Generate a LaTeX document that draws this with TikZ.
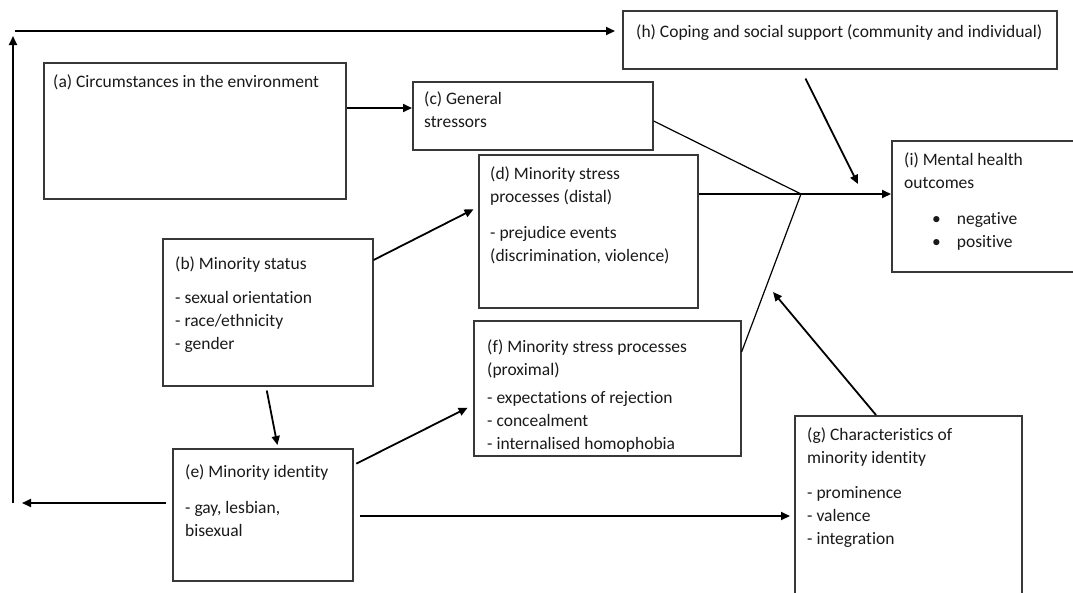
\documentclass[tikz,border=0pt]{standalone}
\usepackage{fontspec}
\setmainfont{Carlito}[Ligatures={NoCommon}]
\usetikzlibrary{arrows.meta,calc}
\begin{document}
\begin{tikzpicture}[x=1pt,y=-1pt,
  box/.style={draw=black!78,line width=1.6pt,inner sep=0pt,anchor=north west},
  txt/.style={anchor=north west,inner sep=0pt,align=left,text=black!90,font=\fontsize{17.5}{23}\selectfont},
  arr/.style={line width=1.8pt,-{Triangle[length=9pt,width=8pt]}},
  thinline/.style={line width=1.2pt}]
\useasboundingbox (0,0) rectangle (1073,592);
\clip (0,0) rectangle (1073,592);
% boxes
\node[box,minimum width=302pt,minimum height=136pt] (a) at (43,62) {};
\node[box,minimum width=240pt,minimum height=68pt] (c) at (412,81) {};
\node[box,minimum width=219pt,minimum height=153pt] (d) at (478,154) {};
\node[box,minimum width=434pt,minimum height=58pt] (h) at (622,10) {};
\node[box,minimum width=200pt,minimum height=131pt] (i) at (891,140) {};
\node[box,minimum width=210pt,minimum height=147pt] (b) at (162,238) {};
\node[box,minimum width=267pt,minimum height=135pt] (f) at (473,320) {};
\node[box,minimum width=180pt,minimum height=132pt] (e) at (172,448) {};
\node[box,minimum width=227pt,minimum height=200pt] (g) at (794,415) {};
% texts
\node[txt] (ta) at (53,74) {(a) Circumstances in the environment};
\node[txt] (tc) at (424,91) {(c) General\\stressors};
\node[txt] (td) at (490,166) {(d) Minority stress\\processes (distal)\\[13pt]- prejudice events\\(discrimination, violence)};
\node[txt] (th) at (636,24) {(h) Coping and social support (community and individual)};
\node[txt] (ti) at (904,152) {(i) Mental health\\outcomes\\[13pt]\hspace{28pt}\textbullet\hspace{16pt}negative\\\hspace{28pt}\textbullet\hspace{16pt}positive};
\node[txt] (tb) at (175,256) {(b) Minority status\\[11pt]- sexual orientation\\- race/ethnicity\\- gender};
\node[txt] (tf) at (487,339) {(f) Minority stress processes\\(proximal)\\[5pt]- expectations of rejection\\- concealment\\- internalised homophobia};
\node[txt] (te) at (185,464) {(e) Minority identity\\[13pt]- gay, lesbian,\\bisexual};
\node[txt] (tg) at (807,427) {(g) Characteristics of\\minority identity\\[12pt]- prominence\\- valence\\- integration};
% connectors
\coordinate (m) at (801,194);
\coordinate (mh) at (858,184);
\coordinate (mg) at (773,292);
\coordinate (lb) at (13,503);
\coordinate (lt) at (13,36);
\coordinate (lh) at (15,31);
\coordinate (le) at (22,503);
\draw[arr] (a.east |- 0,108) -- (c.west |- 0,108);
\draw[thinline] (c.east |- 0,121) -- (m);
\draw[thinline] (f.east |- 0,352) -- (m);
\draw[arr] (d.east |- m) -- (i.west |- m);
\draw[arr,shorten <=10pt] (h.south -| 801,0) -- (mh);
\draw[arr] (g.north -| 876,0) -- (mg);
\draw[arr,shorten >=5pt] (b.east |- 0,260) -- (d.west |- 0,207);
\draw[arr,shorten <=4pt,shorten >=3pt] (b.south -| 266,0) -- (e.north -| 278,0);
\draw[arr,shorten <=3pt,shorten >=6pt] (e.east |- 0,465) -- (f.west |- 0,405);
\draw[arr,shorten <=6pt,shorten >=4pt] (e.east |- 0,516) -- (g.west |- 0,516);
\draw[arr,shorten <=6pt] (e.west |- 0,503) -- (le);
\draw[arr] (lb) -- (lt);
\draw[arr,shorten >=7pt] (lh) -- (h.west |- lh);
\end{tikzpicture}
\end{document}
